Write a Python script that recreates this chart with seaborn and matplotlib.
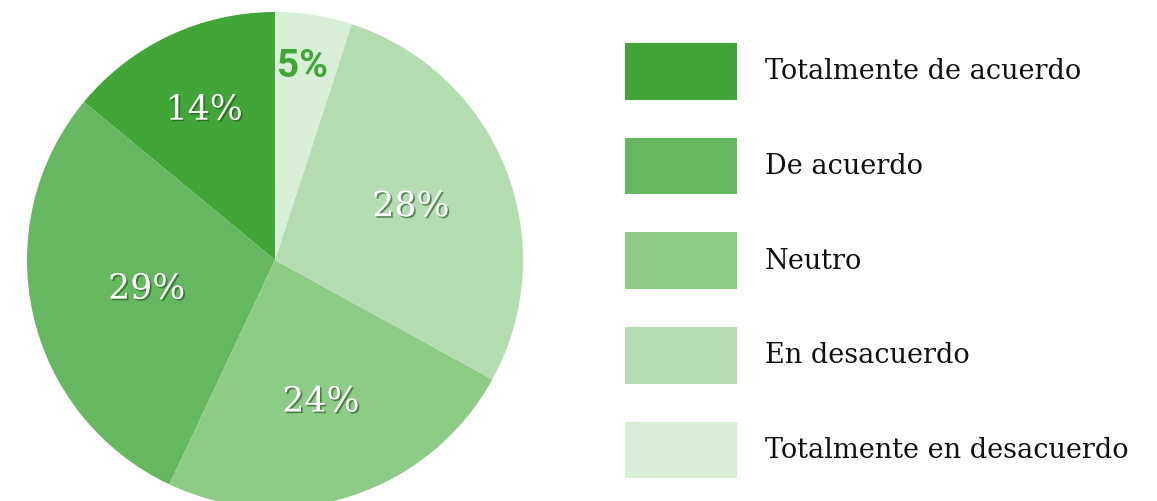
import numpy as np
import matplotlib
matplotlib.use("Agg")
import matplotlib.pyplot as plt
import matplotlib.patheffects as pe
from matplotlib.patches import Patch
import seaborn as sns

# Datos de la encuesta (orden antihorario desde arriba)
categorias = ['Totalmente de acuerdo', 'De acuerdo', 'Neutro',
              'En desacuerdo', 'Totalmente en desacuerdo']
porcentajes = [14, 29, 24, 28, 5]
etiquetas = ['14%', '29%', '24%', '28%', '5%']

colores = ['#41a537', '#66b860', '#8ecb87', '#b3ddb0', '#d9eed7']
dist_etiqueta = [0.67, 0.53, 0.60, 0.59, 0.78]

sns.set_theme(style='white')
plt.rcParams['font.family'] = ['DejaVu Serif']

fig = plt.figure(figsize=(11.57, 5.01), dpi=100)
W, H = 1157, 501
cx, cy, r = 275, 241, 248
ax = fig.add_axes([(cx - r) / W, (cy - r) / H, 2 * r / W, 2 * r / H])

wedges, _ = ax.pie(porcentajes, colors=colores, startangle=90, counterclock=True,
                   radius=1, wedgeprops=dict(linewidth=0))
ax.set_xlim(-1, 1)
ax.set_ylim(-1, 1)
ax.set_aspect('equal')
ax.axis('off')

sombra = [pe.withSimplePatchShadow(offset=(1.2, -1.2), shadow_rgbFace='#1f4f1a', alpha=0.6)]
for w, lab, d in zip(wedges, etiquetas, dist_etiqueta):
    ang = np.deg2rad((w.theta1 + w.theta2) / 2)
    x, y = d * np.cos(ang), d * np.sin(ang)
    if lab == '5%':
        ax.text(x - 0.01, y + 0.01, lab, ha='center', va='center', fontsize=28,
                fontweight='bold', color='#41a537', family=['Roboto', 'DejaVu Sans'])
    else:
        ax.text(x, y, lab, ha='center', va='center', fontsize=25, color='white',
                fontweight='light', path_effects=sombra)

handles = [Patch(facecolor=c, edgecolor='none') for c in colores]
fs = 19.5
fpx = fs * 100 / 72
fig.legend(handles, categorias, loc='upper left',
           bbox_to_anchor=(625 / W, 1 - 43 / H), frameon=False, fontsize=fs,
           handlelength=112 / fpx, handleheight=57 / fpx * 1.35,
           labelspacing=(95 - 57) / fpx, handletextpad=28 / fpx,
           borderpad=0, borderaxespad=0, labelcolor='#111111')

fig.savefig('out.png', dpi=100)
